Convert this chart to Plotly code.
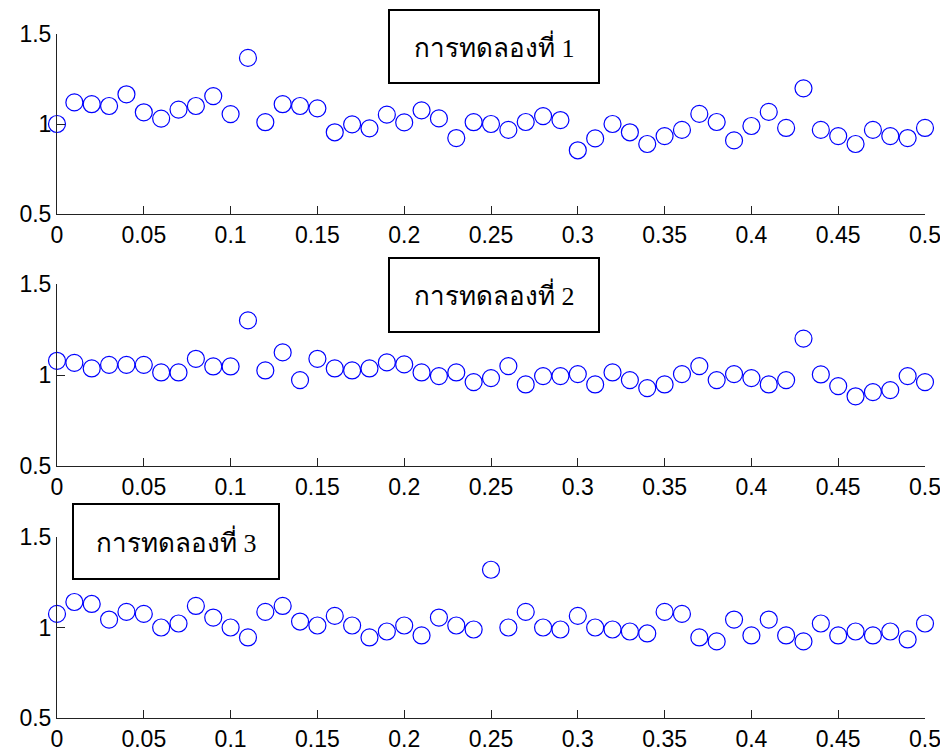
import plotly.graph_objects as go

x_vals = [round(i * 0.01, 2) for i in range(51)]

trial1 = [1.00, 1.12, 1.11, 1.10, 1.165, 1.065, 1.03, 1.08, 1.10, 1.155,
          1.055, 1.367, 1.01, 1.11, 1.10, 1.087, 0.954, 0.998, 0.976, 1.052,
          1.009, 1.076, 1.031, 0.922, 1.01, 1.00, 0.967, 1.011, 1.044, 1.022,
          0.854, 0.92, 1.00, 0.954, 0.889, 0.933, 0.967, 1.056, 1.011, 0.909,
          0.989, 1.067, 0.978, 1.198, 0.967, 0.933, 0.889, 0.967, 0.933, 0.922,
          0.978]

trial2 = [1.078, 1.067, 1.036, 1.056, 1.056, 1.056, 1.014, 1.014, 1.089, 1.047,
          1.047, 1.30, 1.025, 1.124, 0.972, 1.089, 1.036, 1.025, 1.036, 1.069,
          1.058, 1.014, 0.994, 1.014, 0.961, 0.983, 1.049, 0.948, 0.994, 0.994,
          1.005, 0.948, 1.014, 0.972, 0.928, 0.948, 1.005, 1.049, 0.972, 1.005,
          0.983, 0.948, 0.972, 1.20, 1.003, 0.939, 0.883, 0.906, 0.917, 0.994,
          0.961]

trial3 = [1.075, 1.141, 1.130, 1.044, 1.086, 1.075, 1.00, 1.022, 1.119, 1.055,
          1.00, 0.945, 1.086, 1.119, 1.033, 1.011, 1.064, 1.011, 0.945, 0.978,
          1.011, 0.956, 1.055, 1.011, 0.989, 1.319, 1.00, 1.086, 1.00, 0.989,
          1.064, 1.00, 0.989, 0.978, 0.967, 1.086, 1.075, 0.945, 0.923, 1.044,
          0.956, 1.044, 0.956, 0.923, 1.022, 0.956, 0.978, 0.956, 0.978, 0.934,
          1.022]

labels = ["การทดลองที่ 1", "การทดลองที่ 2", "การทดลองที่ 3"]
x_ticks = [0, 0.05, 0.1, 0.15, 0.2, 0.25, 0.3, 0.35, 0.4, 0.45, 0.5]
x_ticktext = ["0", "0.05", "0.1", "0.15", "0.2", "0.25", "0.3", "0.35", "0.4", "0.45", "0.5"]
y_ticks = [0.5, 1, 1.5]
y_ticktext = ["0.5", "1", "1.5"]

# The page body has an 8px default margin; the figure is sized and laid out
# so that on screen it lines up with the 948x751 reference.
OFF = 8
W, H = 948 - OFF, 751 - OFF
def px(v):
    return (v - OFF) / W
def py(v):
    return 1 - (v - OFF) / H

panels_px = [(34, 214), (284, 466), (537, 718)]
x_left, x_right = 57, 925
boxes_px = [(389, 10, 599, 83), (389, 258, 599, 332), (73, 504, 279, 579)]

fig = go.Figure()
series = [trial1, trial2, trial3]
for i, ys in enumerate(series):
    xa = "x" if i == 0 else f"x{i+1}"
    ya = "y" if i == 0 else f"y{i+1}"
    fig.add_trace(go.Scatter(
        x=x_vals, y=ys, mode="markers", xaxis=xa, yaxis=ya,
        marker=dict(symbol="circle-open", size=17, color="#0000ff",
                    line=dict(width=1.2, color="#0000ff")),
        cliponaxis=False, showlegend=False,
    ))

axis_font = dict(family="Liberation Sans, Arial, sans-serif", size=23, color="black")
layout = dict(
    width=W, height=H,
    margin=dict(l=0, r=0, t=0, b=0, autoexpand=False),
    paper_bgcolor="white", plot_bgcolor="white",
    showlegend=False,
)
for i, (top, bot) in enumerate(panels_px):
    xk = "xaxis" if i == 0 else f"xaxis{i+1}"
    yk = "yaxis" if i == 0 else f"yaxis{i+1}"
    ya = "y" if i == 0 else f"y{i+1}"
    xa = "x" if i == 0 else f"x{i+1}"
    layout[xk] = dict(
        domain=[px(x_left), px(x_right)], anchor=ya, range=[0, 0.5],
        tickvals=x_ticks, ticktext=x_ticktext, ticks="inside", ticklen=8,
        tickcolor="#222", showline=True, linecolor="#222", linewidth=1,
        showgrid=False, zeroline=False, tickfont=axis_font, mirror=False,
        automargin=False,
    )
    layout[yk] = dict(
        domain=[py(bot), py(top)], anchor=xa, range=[0.5, 1.5],
        tickvals=y_ticks, ticktext=y_ticktext, ticks="inside", ticklen=8,
        tickcolor="#222", showline=True, linecolor="#222", linewidth=1,
        showgrid=False, zeroline=False, tickfont=axis_font, mirror=False,
        automargin=False,
    )
fig.update_layout(**layout)

for (x0, y0, x1, y1), text in zip(boxes_px, labels):
    fig.add_shape(type="rect", xref="paper", yref="paper",
                  x0=px(x0), x1=px(x1), y0=py(y1), y1=py(y0),
                  line=dict(color="black", width=2), fillcolor="white", layer="above")
    fig.add_annotation(xref="paper", yref="paper",
                       x=px((x0 + x1) / 2), y=py((y0 + y1) / 2),
                       xanchor="center", yanchor="middle", showarrow=False,
                       text=text,
                       font=dict(family="Liberation Serif, Noto Sans, serif", size=26, color="black"))

fig.write_html("out.html")
